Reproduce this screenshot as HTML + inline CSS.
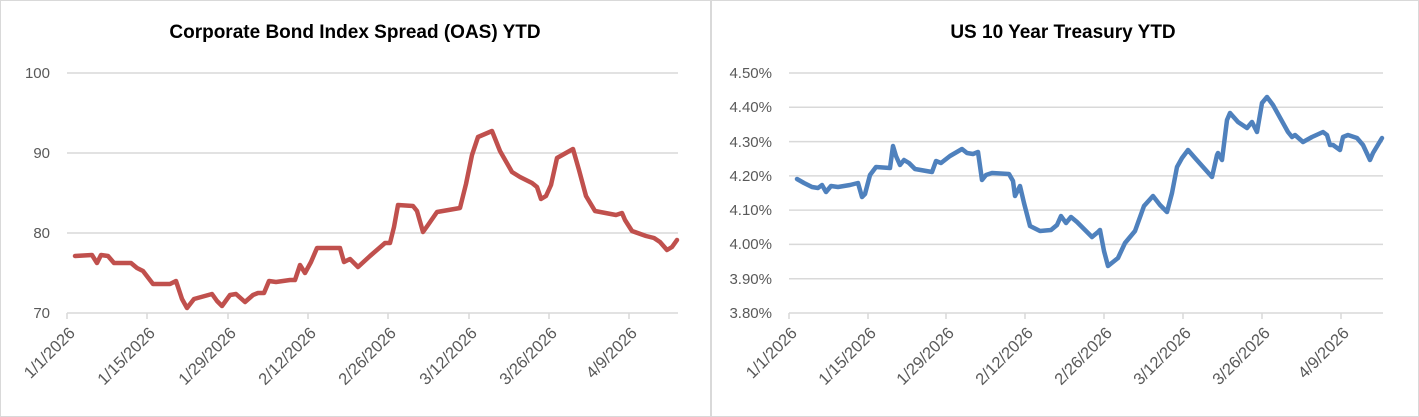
<!DOCTYPE html>
<html><head><meta charset="utf-8"><style>
body{margin:0;background:#fff}
svg{display:block;font-family:"Liberation Sans",sans-serif}
</style></head><body>
<svg width="1419" height="417" viewBox="0 0 1419 417">
<rect x="0.5" y="0.5" width="1418" height="416" fill="#fff" stroke="#d9d9d9"/>
<line x1="711" y1="0" x2="711" y2="417" stroke="#d9d9d9" stroke-width="2"/>
<text x="355" y="38" font-size="19" font-weight="bold" text-anchor="middle" fill="#000">Corporate Bond Index Spread (OAS) YTD</text>
<text x="1063" y="38" font-size="19" font-weight="bold" text-anchor="middle" fill="#000">US 10 Year Treasury YTD</text>
<g stroke="#d9d9d9" stroke-width="1.5">
<line x1="67" y1="73" x2="678" y2="73"/><line x1="67" y1="153" x2="678" y2="153"/><line x1="67" y1="233" x2="678" y2="233"/><line x1="67" y1="313" x2="678" y2="313"/>
<line x1="789" y1="73" x2="1383" y2="73"/><line x1="789" y1="107.3" x2="1383" y2="107.3"/><line x1="789" y1="141.6" x2="1383" y2="141.6"/><line x1="789" y1="175.9" x2="1383" y2="175.9"/><line x1="789" y1="210.1" x2="1383" y2="210.1"/><line x1="789" y1="244.4" x2="1383" y2="244.4"/><line x1="789" y1="278.7" x2="1383" y2="278.7"/><line x1="789" y1="313" x2="1383" y2="313"/>
<line x1="67" y1="313" x2="67" y2="319"/><line x1="147" y1="313" x2="147" y2="319"/><line x1="228" y1="313" x2="228" y2="319"/><line x1="308" y1="313" x2="308" y2="319"/><line x1="388" y1="313" x2="388" y2="319"/><line x1="469" y1="313" x2="469" y2="319"/><line x1="549" y1="313" x2="549" y2="319"/><line x1="629" y1="313" x2="629" y2="319"/>
<line x1="789" y1="313" x2="789" y2="319"/><line x1="868" y1="313" x2="868" y2="319"/><line x1="946" y1="313" x2="946" y2="319"/><line x1="1025" y1="313" x2="1025" y2="319"/><line x1="1104" y1="313" x2="1104" y2="319"/><line x1="1183" y1="313" x2="1183" y2="319"/><line x1="1262" y1="313" x2="1262" y2="319"/><line x1="1341" y1="313" x2="1341" y2="319"/>
</g>
<g font-size="15" fill="#595959" text-anchor="end">
<text x="50" y="78">100</text><text x="50" y="158">90</text><text x="50" y="238">80</text><text x="50" y="318">70</text>
<text x="772" y="78">4.50%</text><text x="772" y="112">4.40%</text><text x="772" y="147">4.30%</text><text x="772" y="181">4.20%</text><text x="772" y="215">4.10%</text><text x="772" y="249">4.00%</text><text x="772" y="284">3.90%</text><text x="772" y="318">3.80%</text>
</g>
<g font-size="16.5" fill="#595959" text-anchor="end">
<text transform="translate(76,334) rotate(-45)">1/1/2026</text>
<text transform="translate(156,334) rotate(-45)">1/15/2026</text>
<text transform="translate(237,334) rotate(-45)">1/29/2026</text>
<text transform="translate(317,334) rotate(-45)">2/12/2026</text>
<text transform="translate(397,334) rotate(-45)">2/26/2026</text>
<text transform="translate(478,334) rotate(-45)">3/12/2026</text>
<text transform="translate(558,334) rotate(-45)">3/26/2026</text>
<text transform="translate(638,334) rotate(-45)">4/9/2026</text>
<text transform="translate(798,334) rotate(-45)">1/1/2026</text>
<text transform="translate(877,334) rotate(-45)">1/15/2026</text>
<text transform="translate(955,334) rotate(-45)">1/29/2026</text>
<text transform="translate(1034,334) rotate(-45)">2/12/2026</text>
<text transform="translate(1113,334) rotate(-45)">2/26/2026</text>
<text transform="translate(1192,334) rotate(-45)">3/12/2026</text>
<text transform="translate(1271,334) rotate(-45)">3/26/2026</text>
<text transform="translate(1350,334) rotate(-45)">4/9/2026</text>
</g>
<polyline fill="none" stroke="#c0504d" stroke-width="4.5" stroke-linejoin="round" stroke-linecap="round" points="75,256 92,255 97,263 101,255 108,256 114,263 131,263 137,268 143,271 153,284 170,284 176,281 182,299 187,308 194,299 212,294 217,301 222,306 230,295 236,294 245,302 253,295 258,293 264,293 269,281 276,282 290,280 295,280 300,265 305,273 311,262 317,248 340,248 344,262 350,259 358,267 370,256 385,243 390,243 394,227 398,205 413,206 417,211 423,232 428,225 437,212 460,208 466,184 472,155 478,137 492,131 500,151 512,172 520,177 532,183 537,187 541,199 546,196 551,185 557,158 573,149 579,170 586,196 595,211 616,215 622,213 625,220 632,231 646,236 654,238 660,242 667,250 672,247 677,240"/>
<polyline fill="none" stroke="#4f81bd" stroke-width="4.5" stroke-linejoin="round" stroke-linecap="round" points="797,179 804,183 812,187 818,188 822,185 826,192 831,186 838,187 850,185 858,183 862,197 865,194 870,175 876,167 890,168 893,146 896,156 900,165 904,160 909,163 915,169 932,172 936,161 941,163 950,156 962,149 967,153 973,154 978,152 982,180 986,175 992,173 1009,174 1013,181 1015,196 1020,186 1024,203 1030,226 1040,231 1051,230 1057,225 1061,216 1066,223 1071,217 1077,222 1085,230 1092,237 1098,232 1100,230 1104,251 1108,266 1118,258 1125,243 1135,231 1144,206 1153,196 1160,205 1167,212 1172,193 1177,167 1182,158 1188,150 1195,158 1212,177 1217,155 1218,153 1222,160 1227,120 1230,113 1238,122 1247,128 1252,122 1257,132 1262,103 1267,97 1273,105 1288,132 1292,137 1295,135 1303,142 1312,137 1323,132 1327,135 1330,145 1333,145 1340,150 1343,137 1348,135 1357,138 1363,145 1370,160 1373,153 1382,138"/>
</svg>
</body></html>
